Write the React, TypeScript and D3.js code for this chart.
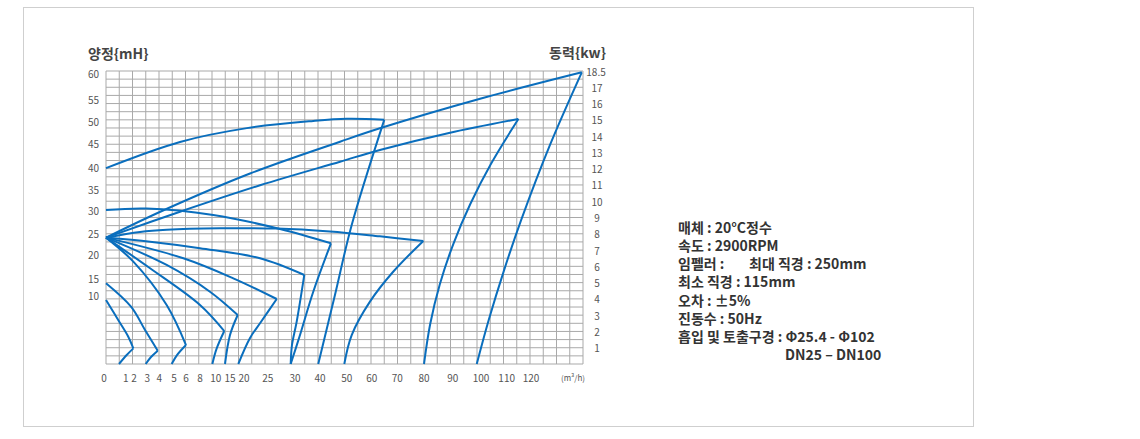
import * as d3 from "d3";

// axis ticks
const flowTicks = [0, 1, 2, 3, 4, 5, 6, 8, 10, 15, 20, 25, 30, 40, 50, 60, 70, 80, 90, 100, 110, 120];
const headTicks = [10, 15, 20, 25, 30, 35, 40, 45, 50, 55, 60];
const powerTicks = [1, 2, 3, 4, 5, 6, 7, 8, 9, 10, 11, 12, 13, 14, 15, 16, 17];
const powerTopLabel = "18.5";

// head curves: [flow m³/h, head m]
const headA: [number, number][] = [[0, 39.9], [5.5, 45.3], [20.6, 48.4], [37.3, 50], [50, 50.5], [64.9, 50.3]];
const headB: [number, number][] = [[0, 23.9], [4.33, 30.16], [21.27, 38.64], [47.5, 45.36], [63.2, 48.36], [100, 55.15], [140.9, 60.19]];
const headC: [number, number][] = [[0, 23.9], [5.5, 29.77], [23.38, 35.87], [47.5, 41.23], [63.2, 43.63], [88.7, 47.31], [114.8, 50.46]];
const headD: [number, number][] = [[0, 30.16], [2.95, 30.51], [9.69, 29.04], [27.25, 25.9], [44.1, 22.55]];
const headE: [number, number][] = [[0, 23.9], [2.45, 25.22], [4.5, 25.72], [11.5, 26.05], [26.65, 26.0], [43.75, 25.34], [63.2, 24.21], [79.74, 23.1]];
const headF: [number, number][] = [[0, 23.9], [3.23, 22.9], [8, 21.36], [23.38, 19.12], [33.72, 15.68]];
const headG: [number, number][] = [[0, 23.9], [5.78, 19.12], [16.18, 15.0], [26.65, 9.42]];
const headH: [number, number][] = [[0, 23.9], [4.5, 17.74], [9.27, 10.99], [17.75, 7.1]];
const headI: [number, number][] = [[0, 23.9], [3.23, 17.06], [8, 8.55], [13.0, 4.78]];
const headJ: [number, number][] = [[0, 23.9], [1.92, 18.42], [4.5, 8.55], [6, 2.75]];
const headK: [number, number][] = [[0, 13.5], [1.64, 8.3], [2.83, 4.93], [3.87, 1.93]];
const headL: [number, number][] = [[0, 9.28], [0.62, 6.38], [1.31, 3.96], [1.92, 2.28]];

// power curves: [flow m³/h, power kW]
const powerA: [number, number][] = [[39.3, 0], [45.6, 4.24], [52, 8.54], [64.9, 15.0]];
const powerB: [number, number][] = [[98.5, 0], [103.0, 2.7], [108.99, 5.77], [115.97, 8.85], [127.82, 13.46], [140.9, 17.92]];
const powerC: [number, number][] = [[80, 0], [82.16, 2.46], [85.54, 4.91], [90.21, 7.37], [96.22, 9.83], [103.85, 12.29], [114.8, 15.05]];
const powerD: [number, number][] = [[29.21, 0], [32, 1.78], [37.3, 4.44], [44.1, 7.41]];
const powerE: [number, number][] = [[49.1, 0], [52, 1.78], [59.3, 3.83], [68.3, 5.65], [79.74, 7.56]];
const powerF: [number, number][] = [[29.21, 0], [29.45, 1.17], [30.68, 2.6], [33.72, 5.47]];
const powerG: [number, number][] = [[17.96, 0], [21.27, 1.6], [23.38, 2.5], [26.65, 3.99]];
const powerH: [number, number][] = [[13.25, 0], [15, 1.78], [17.75, 3.01]];
const powerI: [number, number][] = [[9.57, 0], [10.35, 0.96], [13.0, 2.03]];
const powerJ: [number, number][] = [[4.84, 0], [5.25, 0.55], [6, 1.17]];
const powerK: [number, number][] = [[2.88, 0], [3.31, 0.43], [3.87, 0.82]];
const powerL: [number, number][] = [[0.66, 0], [1.12, 0.55], [1.92, 0.96]];

const headCurves = [headA, headB, headC, headD, headE, headF, headG, headH, headI, headJ, headK, headL];
const powerCurves = [powerA, powerB, powerC, powerD, powerE, powerF, powerG, powerH, powerI, powerJ, powerK, powerL];

// spec sheet text
const specLines = [
  "매체 : 20°C정수",
  "속도 : 2900RPM",
  "임펠러 :",
  "최소 직경 : 115mm",
  "오차 : ±5%",
  "진동수 : 50Hz",
  "흡입 및 토출구경 : Φ25.4 - Φ102",
];
const impellerMax = "최대 직경 : 250mm";
const dnRange = "DN25 – DN100";

const W = 1140;
const H = 439;
const plot = { left: 106, top: 71, right: 583, bottom: 364 };
const FONT = "'Noto Sans CJK KR', 'Noto Sans', sans-serif";
const BLUE = "#0a6ebd";
const GRID = "#a9a9a9";

// the printed flow axis is not uniform, so the scale follows the label positions
const x = d3
  .scaleLinear()
  .domain(flowTicks)
  .range([106, 125.7, 134, 147.3, 159.3, 174, 186, 200, 215.7, 230, 244, 267.7, 295, 320, 346.7, 371.7, 397.3, 424, 452.7, 481, 506.7, 531]);

const yHead = d3
  .scaleLinear()
  .domain([0, ...headTicks])
  .range([364, 295, 278.3, 254, 233, 210.7, 189, 167.7, 143.3, 121, 99.3, 73.3]);

const yPower = d3.scaleLinear().domain([0, 18]).range([plot.bottom, plot.top]);

const cols = d3.scaleLinear().domain([0, 36]).range([plot.left, plot.right]);

const headLine = d3
  .line<[number, number]>()
  .x((d) => x(d[0]))
  .y((d) => yHead(d[1]))
  .curve(d3.curveCatmullRom.alpha(0.5));

const powerLine = d3
  .line<[number, number]>()
  .x((d) => x(d[0]))
  .y((d) => yPower(d[1]))
  .curve(d3.curveCatmullRom.alpha(0.5));

export default function App() {
  const rows = d3.range(0, 18.01, 0.5);
  const vcols = d3.range(0, 37);

  return (
    <svg
      width={W}
      height={H}
      style={{ position: "absolute", left: 0, top: 0, background: "#fff" }}
      fontFamily={FONT}
    >
      <rect x={23.5} y={7.5} width={950} height={419} fill="#fff" stroke="#cfcfcf" />

      {/* grid */}
      <g stroke={GRID} strokeWidth={1}>
        {rows.map((r) => (
          <line key={"h" + r} x1={plot.left} x2={plot.right} y1={yPower(r)} y2={yPower(r)} />
        ))}
        {vcols.map((c) => (
          <line key={"v" + c} x1={cols(c)} x2={cols(c)} y1={plot.top} y2={plot.bottom} />
        ))}
      </g>

      {/* curves */}
      <g fill="none" stroke={BLUE} strokeWidth={2} strokeLinejoin="miter">
        {headCurves.map((c, i) => (
          <path key={"hc" + i} d={headLine(c) ?? ""} />
        ))}
        {powerCurves.map((c, i) => (
          <path key={"pc" + i} d={powerLine(c) ?? ""} />
        ))}
      </g>

      {/* left axis */}
      <g fontSize={10} fill="#555" textAnchor="end">
        {headTicks.map((t) => (
          <text key={t} x={99} y={yHead(t)} dominantBaseline="central">
            {t}
          </text>
        ))}
      </g>
      <text x={88} y={53} fontSize={14} fontWeight="bold" fill="#444" dominantBaseline="central">
        양정{"{mH}"}
      </text>

      {/* right axis */}
      <g fontSize={10} fill="#555" textAnchor="middle">
        {powerTicks.map((t) => (
          <text key={t} x={597} y={yPower(t)} dominantBaseline="central">
            {t}
          </text>
        ))}
        <text x={596} y={yPower(18)} dominantBaseline="central">
          {powerTopLabel}
        </text>
      </g>
      <text x={606} y={52} fontSize={14} fontWeight="bold" fill="#444" textAnchor="end" dominantBaseline="central">
        동력{"{kw}"}
      </text>

      {/* bottom axis */}
      <g fontSize={10} fill="#555" textAnchor="middle">
        {flowTicks.map((t) => (
          <text key={t} x={t === 0 ? x(t) - 2 : x(t)} y={377} dominantBaseline="central">
            {t}
          </text>
        ))}
      </g>
      <text x={573} y={377} fontSize={8} fill="#555" textAnchor="middle" dominantBaseline="central">
        (m³/h)
      </text>

      {/* specs */}
      <g fontSize={14} fontWeight="bold" fill="#333">
        {specLines.map((s, i) => (
          <text key={s} x={678} y={226.7 + i * 18.23} dominantBaseline="central">
            {s}
          </text>
        ))}
        <text x={749} y={226.7 + 2 * 18.23} dominantBaseline="central">
          {impellerMax}
        </text>
        <text x={785} y={226.7 + 7 * 18.23} dominantBaseline="central">
          {dnRange}
        </text>
      </g>
    </svg>
  );
}
